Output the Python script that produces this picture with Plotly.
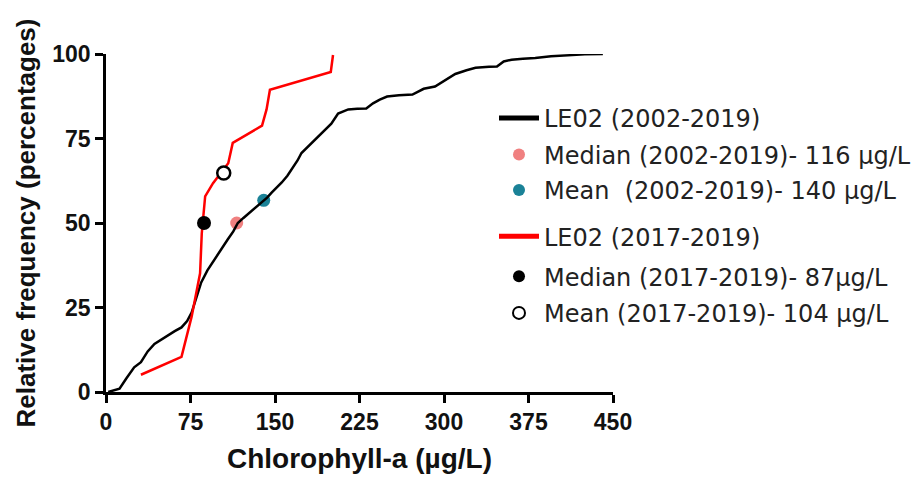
import plotly.graph_objects as go

# Cumulative frequency, LE02 2002-2019
chl_all = [2, 12, 18, 25, 31, 37, 43, 49, 55, 61, 67, 72, 76, 80, 84.5, 90, 98, 103, 108, 113,
           117, 122, 127, 133, 138, 143, 147, 152, 156, 161, 165, 170, 173.5, 179, 185, 191,
           195, 200, 206, 215, 223, 231, 237, 243, 249.5, 260, 272, 282, 292, 304, 310, 320,
           328, 340, 347, 353, 360, 370, 381, 395, 411, 425, 441]
freq_all = [0, 1, 4, 7.3, 8.8, 12, 14.2, 15.5, 16.6, 18, 19.1, 21, 23.5, 27.5, 32.4, 36, 40.2, 42.5,
            45.1, 47.5, 50, 51.5, 53, 54.5, 56, 57.5, 59, 60.5, 62, 64, 66, 68.5, 70.7, 72.5, 74.6,
            76.5, 78, 79.4, 82.4, 83.6, 83.8, 83.9, 85.4, 86.5, 87.4, 87.8, 88, 89.7, 90.4, 92.9,
            94.1, 95.2, 95.9, 96.2, 96.3, 97.8, 98.3, 98.6, 98.8, 99.3, 99.7, 99.9, 100]

# Cumulative frequency, LE02 2017-2019
chl_recent = [31, 67, 76, 83.5, 85, 88, 95, 108.5, 112.5, 138.5, 142.5, 145.5, 199.5, 201.5]
freq_recent = [5.1, 10.4, 22.3, 35.1, 46.9, 57.9, 61.8, 67.7, 73.7, 78.8, 83.6, 89.4, 94.7, 99.7]

# Summary statistics
median_all_x, median_all_y = [116], [50]
mean_all_x, mean_all_y = [140], [56.7]
median_recent_x, median_recent_y = [87], [50]
mean_recent_x, mean_recent_y = [104.5], [64.8]

x_ticks = [0, 75, 150, 225, 300, 375, 450]
y_ticks = [0, 25, 50, 75, 100]

names = [
    "LE02 (2002-2019)",
    "Median (2002-2019)- 116 µg/L",
    "Mean  (2002-2019)- 140 µg/L",
    "LE02 (2017-2019)",
    "Median (2017-2019)- 87µg/L",
    "Mean (2017-2019)- 104 µg/L",
]

fig = go.Figure()

fig.add_trace(go.Scatter(x=median_all_x, y=median_all_y, mode="markers", name=names[1],
                         marker=dict(color="#f08080", size=13), legend="legend2", cliponaxis=False))
fig.add_trace(go.Scatter(x=mean_all_x, y=mean_all_y, mode="markers", name=names[2],
                         marker=dict(color="#1a8297", size=13), legend="legend3", cliponaxis=False))
fig.add_trace(go.Scatter(x=chl_all, y=freq_all, mode="lines", name=names[0],
                         line=dict(color="black", width=2.5), legend="legend", cliponaxis=False))
fig.add_trace(go.Scatter(x=chl_recent, y=freq_recent, mode="lines", name=names[3],
                         line=dict(color="#ff0000", width=2.5), legend="legend4", cliponaxis=False))
fig.add_trace(go.Scatter(x=median_recent_x, y=median_recent_y, mode="markers", name=names[4],
                         marker=dict(color="black", size=14), legend="legend5", cliponaxis=False))
fig.add_trace(go.Scatter(x=mean_recent_x, y=mean_recent_y, mode="markers", name=names[5],
                         marker=dict(color="white", size=13, line=dict(color="black", width=2.5)),
                         legend="legend6", cliponaxis=False))

# page has an 8px body margin: compensate so the chart lands where the reference has it
OFF = 8
W, H = 924 - OFF, 482 - OFF
L, T = 106 - OFF, 54 - OFF
pw, ph = 507, 338
R, B = W - L - pw, H - T - ph

def px_to_paper_x(px):
    return (px - OFF - L) / pw

def px_to_paper_y(py):
    return (H - B - (py - OFF)) / ph

row_centers = [118.5, 155, 190.5, 236.7, 276.7, 313.3]
legend_font = dict(family="DejaVu Sans", size=24, color="#222222")
legend_common = dict(x=px_to_paper_x(494), xanchor="left", yanchor="middle",
                     bgcolor="rgba(0,0,0,0)", borderwidth=0, font=legend_font,
                     itemwidth=40, itemsizing="constant", itemclick=False)
legends = {}
for i, key in enumerate(["legend", "legend2", "legend3", "legend4", "legend5", "legend6"]):
    legends[key] = dict(y=px_to_paper_y(row_centers[i]), **legend_common)

axis_font = dict(family="Liberation Sans", size=23, color="#111111", weight="bold")
xtitle_font = dict(family="Liberation Sans", size=28, color="#111111", weight="bold")
ytitle_font = dict(family="Liberation Sans", size=26, color="#111111", weight="bold")

fig.update_layout(
    width=W, height=H,
    margin=dict(l=L, r=R, t=T, b=B, autoexpand=False),
    plot_bgcolor="white", paper_bgcolor="white",
    showlegend=True,
    **legends,
    xaxis=dict(range=[0, 450], tickvals=x_ticks, ticktext=[str(v) for v in x_ticks],
               showgrid=False, zeroline=False, showline=True, linecolor="black", linewidth=2.5,
               ticks="outside", ticklen=8, tickwidth=2.5, tickcolor="black",
               tickfont=axis_font,
               title=dict(text="Chlorophyll-a (µg/L)", font=xtitle_font, standoff=15)),
    yaxis=dict(range=[0, 100], tickvals=y_ticks, ticktext=[str(v) for v in y_ticks],
               showgrid=False, zeroline=False, showline=True, linecolor="black", linewidth=2.5,
               ticks="outside", ticklen=8, tickwidth=2.5, tickcolor="black",
               tickfont=axis_font,
               title=dict(text="Relative frequency (percentages)", font=ytitle_font, standoff=10)),
)

fig.write_html("out.html")
